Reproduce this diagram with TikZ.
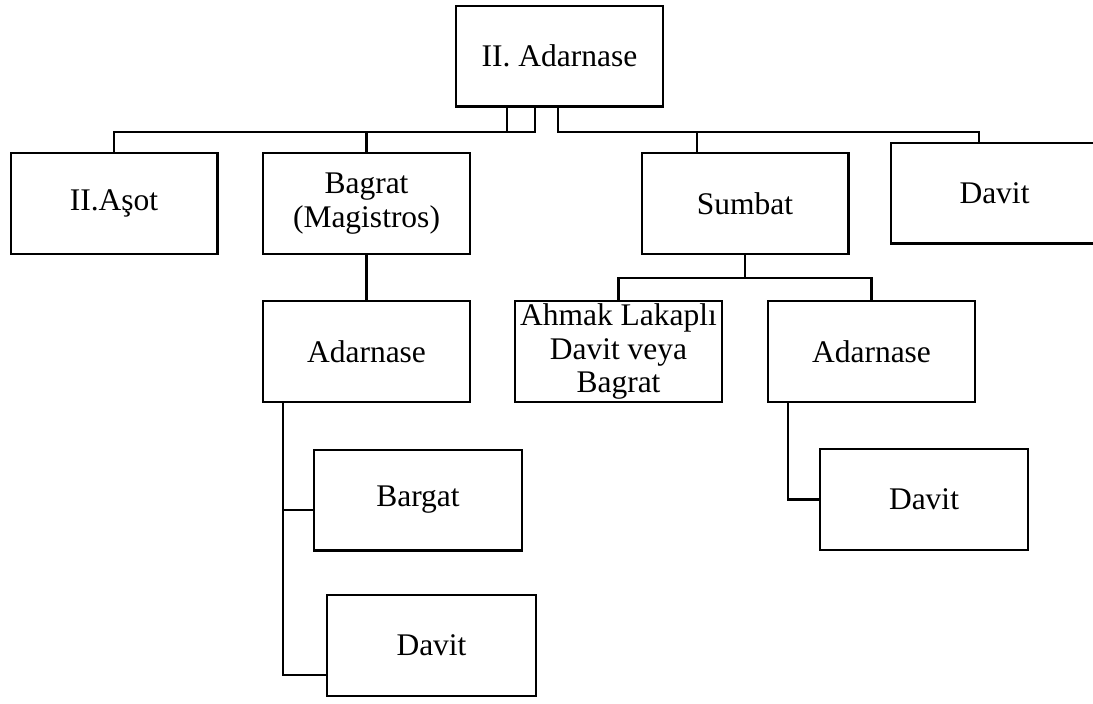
\documentclass[tikz,border=0pt]{standalone}
\usepackage{fontspec}
\setmainfont{Liberation Serif}
\begin{document}
\begin{tikzpicture}[x=1pt, y=-1pt,
	kutu/.style={draw, line width=2.4pt, inner sep=0pt, align=center,
		minimum width=206.6pt, minimum height=100.6pt,
		font=\fontsize{31.5}{33.5}\selectfont},
	every path/.style={line width=2.4pt}]
	%		\draw [thin, help lines] (0,0) grid[step=50] (1093,704);
	\useasboundingbox (0,0) rectangle (1093,704);
	%%% Kutular
	\node[kutu] (adar2) at (559.5,56) {II. Adarnase};
	\node[kutu] (asot) at (114,203.5) {II.Aşot};
	\node[kutu] (bagrat) at (366.5,203.5) {Bagrat\\(Magistros)};
	\node[kutu] (sumbat) at (745,203.5) {Sumbat};
	\node[kutu] (davitS) at (994.5,193) {Davit};
	\node[kutu] (adarB) at (366.5,351.5) {Adarnase};
	\node[kutu] (ahmak) at (618.5,351.5) {Ahmak Lakaplı\\Davit veya\\Bagrat};
	\node[kutu] (adarS) at (871.5,351.5) {Adarnase};
	\node[kutu, minimum width=207.6pt] (bargat) at (418,500) {Bargat};
	\node[kutu, minimum width=208.6pt] (davitB) at (431.5,645.5) {Davit};
	\node[kutu, minimum width=207.6pt] (davitA) at (924,499.5) {Davit};
	%%% Hatlar
	\coordinate (bus) at (0,132);
	\coordinate (sbus) at (0,278);
	\draw (asot.north) -- (asot.north |- bus) -- ([xshift=-52.5pt]adar2.south |- bus) -- ([xshift=-52.5pt]adar2.south);
	\draw ([xshift=-52.5pt]adar2.south |- bus) -- ([xshift=-24.5pt]adar2.south |- bus) -- ([xshift=-24.5pt]adar2.south);
	\draw (bagrat.north) -- (bagrat.north |- bus);
	\draw ([xshift=-1.5pt]adar2.south) -- ([xshift=-1.5pt]adar2.south |- bus) -- ([xshift=-15.5pt]davitS.north |- bus) -- ([xshift=-15.5pt]davitS.north);
	\draw ([xshift=-48pt]sumbat.north) -- ([xshift=-48pt]sumbat.north |- bus);
	%%% Bagrat kolu
	\draw (bagrat.south) -- (adarB.north);
	\coordinate (kolB) at ([xshift=-83.5pt]adarB.south);
	\draw (kolB) |- ([yshift=-10pt]bargat.west);
	\draw (kolB) |- ([yshift=-29.5pt]davitB.west);
	%%% Sumbat kolu
	\draw (sumbat.south) -- (sumbat.south |- sbus);
	\draw (ahmak.north) |- (adarS.north |- sbus) -- (adarS.north);
	\draw ([xshift=-83.5pt]adarS.south) |- (davitA.west);
\end{tikzpicture}
\end{document}
